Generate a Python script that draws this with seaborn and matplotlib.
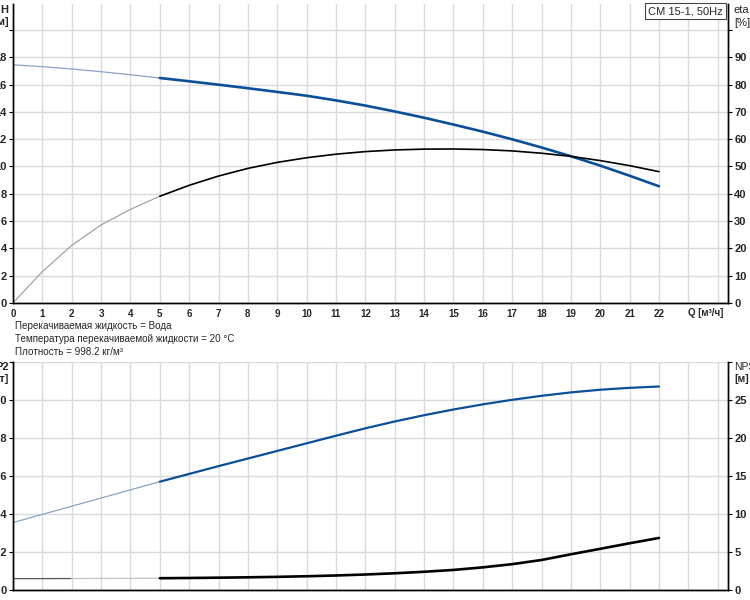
import pandas as pd
import seaborn as sns
import matplotlib.pyplot as plt

# Pump curve data (CM 15-1, 50Hz)
q = list(range(0, 23))
head = [17.45, 17.31, 17.14, 16.94, 16.72, 16.48, 16.24, 15.99, 15.73, 15.46, 15.18, 14.84,
        14.46, 14.03, 13.57, 13.07, 12.55, 11.99, 11.39, 10.75, 10.06, 9.32, 8.55]
eta = [0, 11.5, 21.1, 28.6, 34.3, 39.1, 43.1, 46.5, 49.3, 51.5, 53.2, 54.5,
       55.45, 56.05, 56.35, 56.4, 56.2, 55.7, 54.85, 53.7, 52.15, 50.3, 48.1]
p2 = [0.355, 0.398, 0.441, 0.484, 0.527, 0.570, 0.611, 0.652, 0.692, 0.732, 0.772, 0.812,
      0.851, 0.887, 0.920, 0.950, 0.977, 1.001, 1.022, 1.040, 1.054, 1.064, 1.071]
npsh = [1.5, 1.5, 1.51, 1.52, 1.53, 1.55, 1.58, 1.62, 1.67, 1.73, 1.81, 1.91,
        2.04, 2.2, 2.4, 2.64, 2.98, 3.4, 3.95, 4.7, 5.42, 6.15, 6.85]

x_ticks = list(range(0, 25))
x_labels = [str(v) for v in range(0, 23)] + ['', '']
h_ticks = [0, 2, 4, 6, 8, 10, 12, 14, 16, 18, 20]
eta_ticks = [0, 10, 20, 30, 40, 50, 60, 70, 80, 90, 100]
p2_ticks = [0, 0.2, 0.4, 0.6, 0.8, 1.0, 1.2]
npsh_ticks = [0, 5, 10, 15, 20, 25, 30]

info_lines = ['Перекачиваемая жидкость = Вода',
              'Температура перекачиваемой жидкости = 20 °C',
              'Плотность = 998.2 кг/м³']

df = pd.DataFrame({'Q': q, 'H': head, 'eta': eta, 'P2': p2, 'NPSH': npsh})
low = df[df['Q'] <= 5]
high = df[df['Q'] >= 5]

sns.set_style('white')
plt.rcParams['font.family'] = ['Liberation Sans', 'DejaVu Sans']

BLUE = '#0b4f98'
LIGHT_BLUE = '#8aa3c4'
GRID = '#d8dbde'

fig = plt.figure(figsize=(7.5, 6), dpi=100)
ax1 = fig.add_axes([13 / 750, 1 - 303 / 600, 715 / 750, 299 / 600])
ax1r = ax1.twinx()
ax2 = fig.add_axes([13 / 750, 1 - 590 / 600, 715 / 750, 228 / 600])
ax2r = ax2.twinx()

# top chart: head and efficiency
sns.lineplot(data=low, x='Q', y='H', ax=ax1, color=LIGHT_BLUE, linewidth=0.9)
sns.lineplot(data=high, x='Q', y='H', ax=ax1, color=BLUE, linewidth=1.9)
sns.lineplot(data=low, x='Q', y='eta', ax=ax1r, color='#999999', linewidth=0.8)
sns.lineplot(data=high, x='Q', y='eta', ax=ax1r, color='black', linewidth=1.2)

# bottom chart: power and NPSH
sns.lineplot(data=low, x='Q', y='P2', ax=ax2, color=LIGHT_BLUE, linewidth=0.9)
sns.lineplot(data=high, x='Q', y='P2', ax=ax2, color=BLUE, linewidth=1.6)
sns.lineplot(data=df[df['Q'] <= 2], x='Q', y='NPSH', ax=ax2r, color='#555555', linewidth=0.9)
sns.lineplot(data=df[(df['Q'] >= 2) & (df['Q'] <= 5)], x='Q', y='NPSH', ax=ax2r,
             color='#c4c4c4', linewidth=0.9)
sns.lineplot(data=high, x='Q', y='NPSH', ax=ax2r, color='black', linewidth=1.9)

tick_kw = dict(direction='out', length=3, width=0.8, color='black', pad=1.5)
for ax in (ax1, ax2):
    ax.set_xlim(0, 24.35)
    ax.set_xticks(x_ticks)
    ax.grid(True, color=GRID, linewidth=1)
    ax.set_xlabel('')
    ax.set_ylabel('')
    ax.tick_params(axis='both', **tick_kw)
for ax in (ax1r, ax2r):
    ax.set_ylabel('')
    ax.grid(False)
    ax.tick_params(axis='y', **tick_kw)
for ax in (ax1, ax1r, ax2, ax2r):
    ax.spines['top'].set_visible(False)
    for s in ('left', 'right', 'bottom'):
        ax.spines[s].set_color('black')
        ax.spines[s].set_linewidth(1)

ax1.set_xticklabels(x_labels, fontsize=7, fontweight='bold')
ax2.set_xticklabels([''] * len(x_ticks))

ax1.set_ylim(0, 21.9)
ax1.set_yticks(h_ticks)
ax1.set_yticklabels([str(v) for v in h_ticks[:-1]] + [''], fontsize=8, fontweight='bold')
ax1r.set_ylim(0, 109.5)
ax1r.set_yticks(eta_ticks)
ax1r.set_yticklabels([str(v) for v in eta_ticks[:-1]] + [''], fontsize=8, fontweight='bold')

ax2.set_ylim(0, 1.2)
ax2.set_yticks(p2_ticks)
ax2.set_yticklabels([f'{v:.1f}' if v else '0' for v in p2_ticks[:-1]] + [''],
                    fontsize=8, fontweight='bold')
ax2r.set_ylim(0, 30)
ax2r.set_yticks(npsh_ticks)
ax2r.set_yticklabels([str(v) for v in npsh_ticks[:-1]] + [''], fontsize=8, fontweight='bold')

# axis captions
ax1.text(23.6, -0.033, 'Q [м³/ч]', transform=ax1.get_xaxis_transform(),
         ha='center', va='center', fontsize=7, fontweight='bold')
fig.text(8 / 750, 1 - 10 / 600, 'H', ha='right', va='center', fontsize=8, fontweight='bold')
fig.text(9 / 750, 1 - 22 / 600, '[м]', ha='right', va='center', fontsize=8, fontweight='bold')
fig.text(734 / 750, 1 - 10 / 600, 'eta', ha='left', va='center', fontsize=8)
fig.text(734 / 750, 1 - 23 / 600, '[%]', ha='left', va='center', fontsize=8)
fig.text(9 / 750, 1 - 367 / 600, 'P2', ha='right', va='center', fontsize=8, fontweight='bold')
fig.text(9 / 750, 1 - 379 / 600, '[кВт]', ha='right', va='center', fontsize=8, fontweight='bold')
fig.text(734 / 750, 1 - 367 / 600, 'NPSH', ha='left', va='center', fontsize=7.5)
fig.text(734 / 750, 1 - 379 / 600, '[м]', ha='left', va='center', fontsize=7.5, fontweight='bold')

fig.text(723 / 750, 1 - 11 / 600, 'CM 15-1, 50Hz', ha='right', va='center', fontsize=8,
         bbox=dict(boxstyle='square,pad=0.3', facecolor='white', edgecolor='#444444',
                   linewidth=0.8))

for i, line in enumerate(info_lines):
    fig.text(15 / 750, 1 - (326 + 13 * i) / 600, line, ha='left', va='center', fontsize=7.1)

fig.savefig('out.png', dpi=100)
